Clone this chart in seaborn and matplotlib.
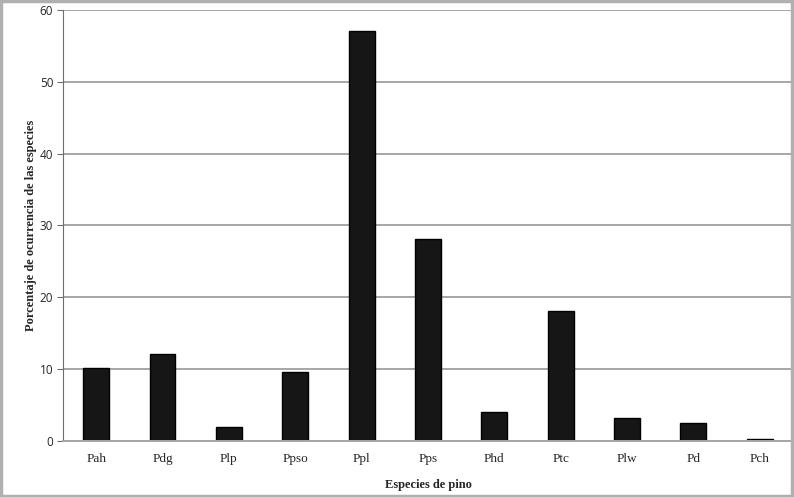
import matplotlib
matplotlib.use('Agg')
import matplotlib.pyplot as plt
import seaborn as sns
import pandas as pd
from matplotlib.patches import Rectangle

especies = ['Pah', 'Pdg', 'Plp', 'Ppso', 'Ppl', 'Pps', 'Phd', 'Ptc', 'Plw', 'Pd', 'Pch']
porcentaje = [10.1, 12.1, 2.0, 9.6, 57.1, 28.1, 4.1, 18.1, 3.2, 2.5, 0.3]

df = pd.DataFrame({'especie': especies, 'porcentaje': porcentaje})

sns.set_style("white")
plt.rcParams['font.family'] = ['Liberation Serif', 'DejaVu Serif']

fig = plt.figure(figsize=(7.94, 4.97), dpi=100)
ax = fig.add_axes([0.0793, 0.1127, 0.9194, 0.8672])

sns.barplot(x='especie', y='porcentaje', data=df, color='#161616',
            edgecolor='#000000', linewidth=1.0, width=0.39, ax=ax, saturation=1)

# lineas de la cuadricula
ax.set_ylim(0, 60)
ax.set_yticks(range(0, 61, 10))
ax.yaxis.grid(True, color='#a6a6a6', linewidth=1.4)
ax.set_axisbelow(True)

for s in ['top', 'right']:
    ax.spines[s].set_visible(False)
ax.spines['left'].set_color('#6e6e6e')
ax.spines['bottom'].set_color('#a6a6a6')
ax.spines['bottom'].set_linewidth(1.4)

ax.tick_params(axis='y', length=4, color='#6e6e6e', pad=3, left=True)
ax.tick_params(axis='x', length=0, labelsize=9.5, pad=9)
for lab in ax.get_yticklabels():
    lab.set_family(['Open Sans', 'DejaVu Sans'])
    lab.set_fontsize(8.5)

ax.set_xlabel('Especies de pino', fontsize=9, fontweight='bold')
ax.set_ylabel('Porcentaje de ocurrencia de las especies', fontsize=9, fontweight='bold')
ax.xaxis.set_label_coords(0.5, -0.102)
ax.yaxis.set_label_coords(-0.044, 0.5)
ax.xaxis.label.set_va('center')
ax.yaxis.label.set_va('center')

# marco gris de la figura
fig.patches.append(Rectangle((0.001, 0.002), 0.997, 0.996, transform=fig.transFigure,
                             fill=False, edgecolor='#b0b0b0', linewidth=2.5))

fig.savefig('out.png', dpi=100)
